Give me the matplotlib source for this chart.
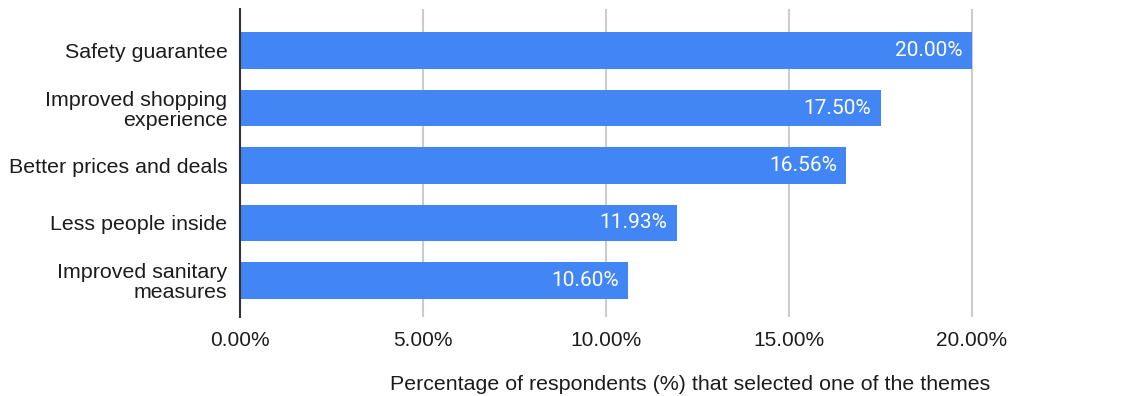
import matplotlib
matplotlib.use("Agg")
import matplotlib.pyplot as plt
from matplotlib.ticker import FuncFormatter

categories = [
    "Safety guarantee",
    "Improved shopping\nexperience",
    "Better prices and deals",
    "Less people inside",
    "Improved sanitary\nmeasures",
]
values = [20.00, 17.50, 16.56, 11.93, 10.60]
xticks = [0, 5, 10, 15, 20]
xlabel = "Percentage of respondents (%) that selected one of the themes"

bar_color = "#4285F4"
text_color = "#1c1c1c"

fig = plt.figure(figsize=(11.43, 3.96), dpi=100)
ax = fig.add_axes([240 / 1143, 1 - 317 / 396, 900 / 1143, 308 / 396])

ypos = list(range(len(categories)))
ax.barh(ypos, values, height=0.64, color=bar_color, zorder=3)

ax.set_ylim(4 + 36.5 / 57.5, -41.5 / 57.5)
ax.set_xlim(0, 900 / 36.6)

ax.set_yticks(ypos)
ax.set_yticklabels(categories, fontsize=15.4, family="Liberation Sans",
                   color=text_color, linespacing=1.05)
ax.set_xticks(xticks)
ax.xaxis.set_major_formatter(FuncFormatter(lambda v, p: f"{v:.2f}%"))
for lbl in ax.get_xticklabels():
    lbl.set_family("Liberation Sans")
    lbl.set_fontsize(15)
    lbl.set_color(text_color)

ax.tick_params(axis="y", length=0, pad=9)
ax.tick_params(axis="x", length=0, pad=10)

ax.grid(axis="x", color="#cccccc", linewidth=1.5, zorder=0)
for side in ["top", "right", "bottom"]:
    ax.spines[side].set_visible(False)
ax.spines["left"].set_color("#333333")
ax.spines["left"].set_linewidth(1.5)
ax.spines["left"].set_zorder(4)

ax.set_xlabel(xlabel, fontsize=15.4, family="Liberation Sans", color=text_color,
              labelpad=18)

for y, v in zip(ypos, values):
    ax.text(v - 0.25, y, f"{v:.2f}%", ha="right", va="center", color="white",
            fontsize=15, family="Roboto", zorder=5)

fig.savefig("out.png", dpi=100)
